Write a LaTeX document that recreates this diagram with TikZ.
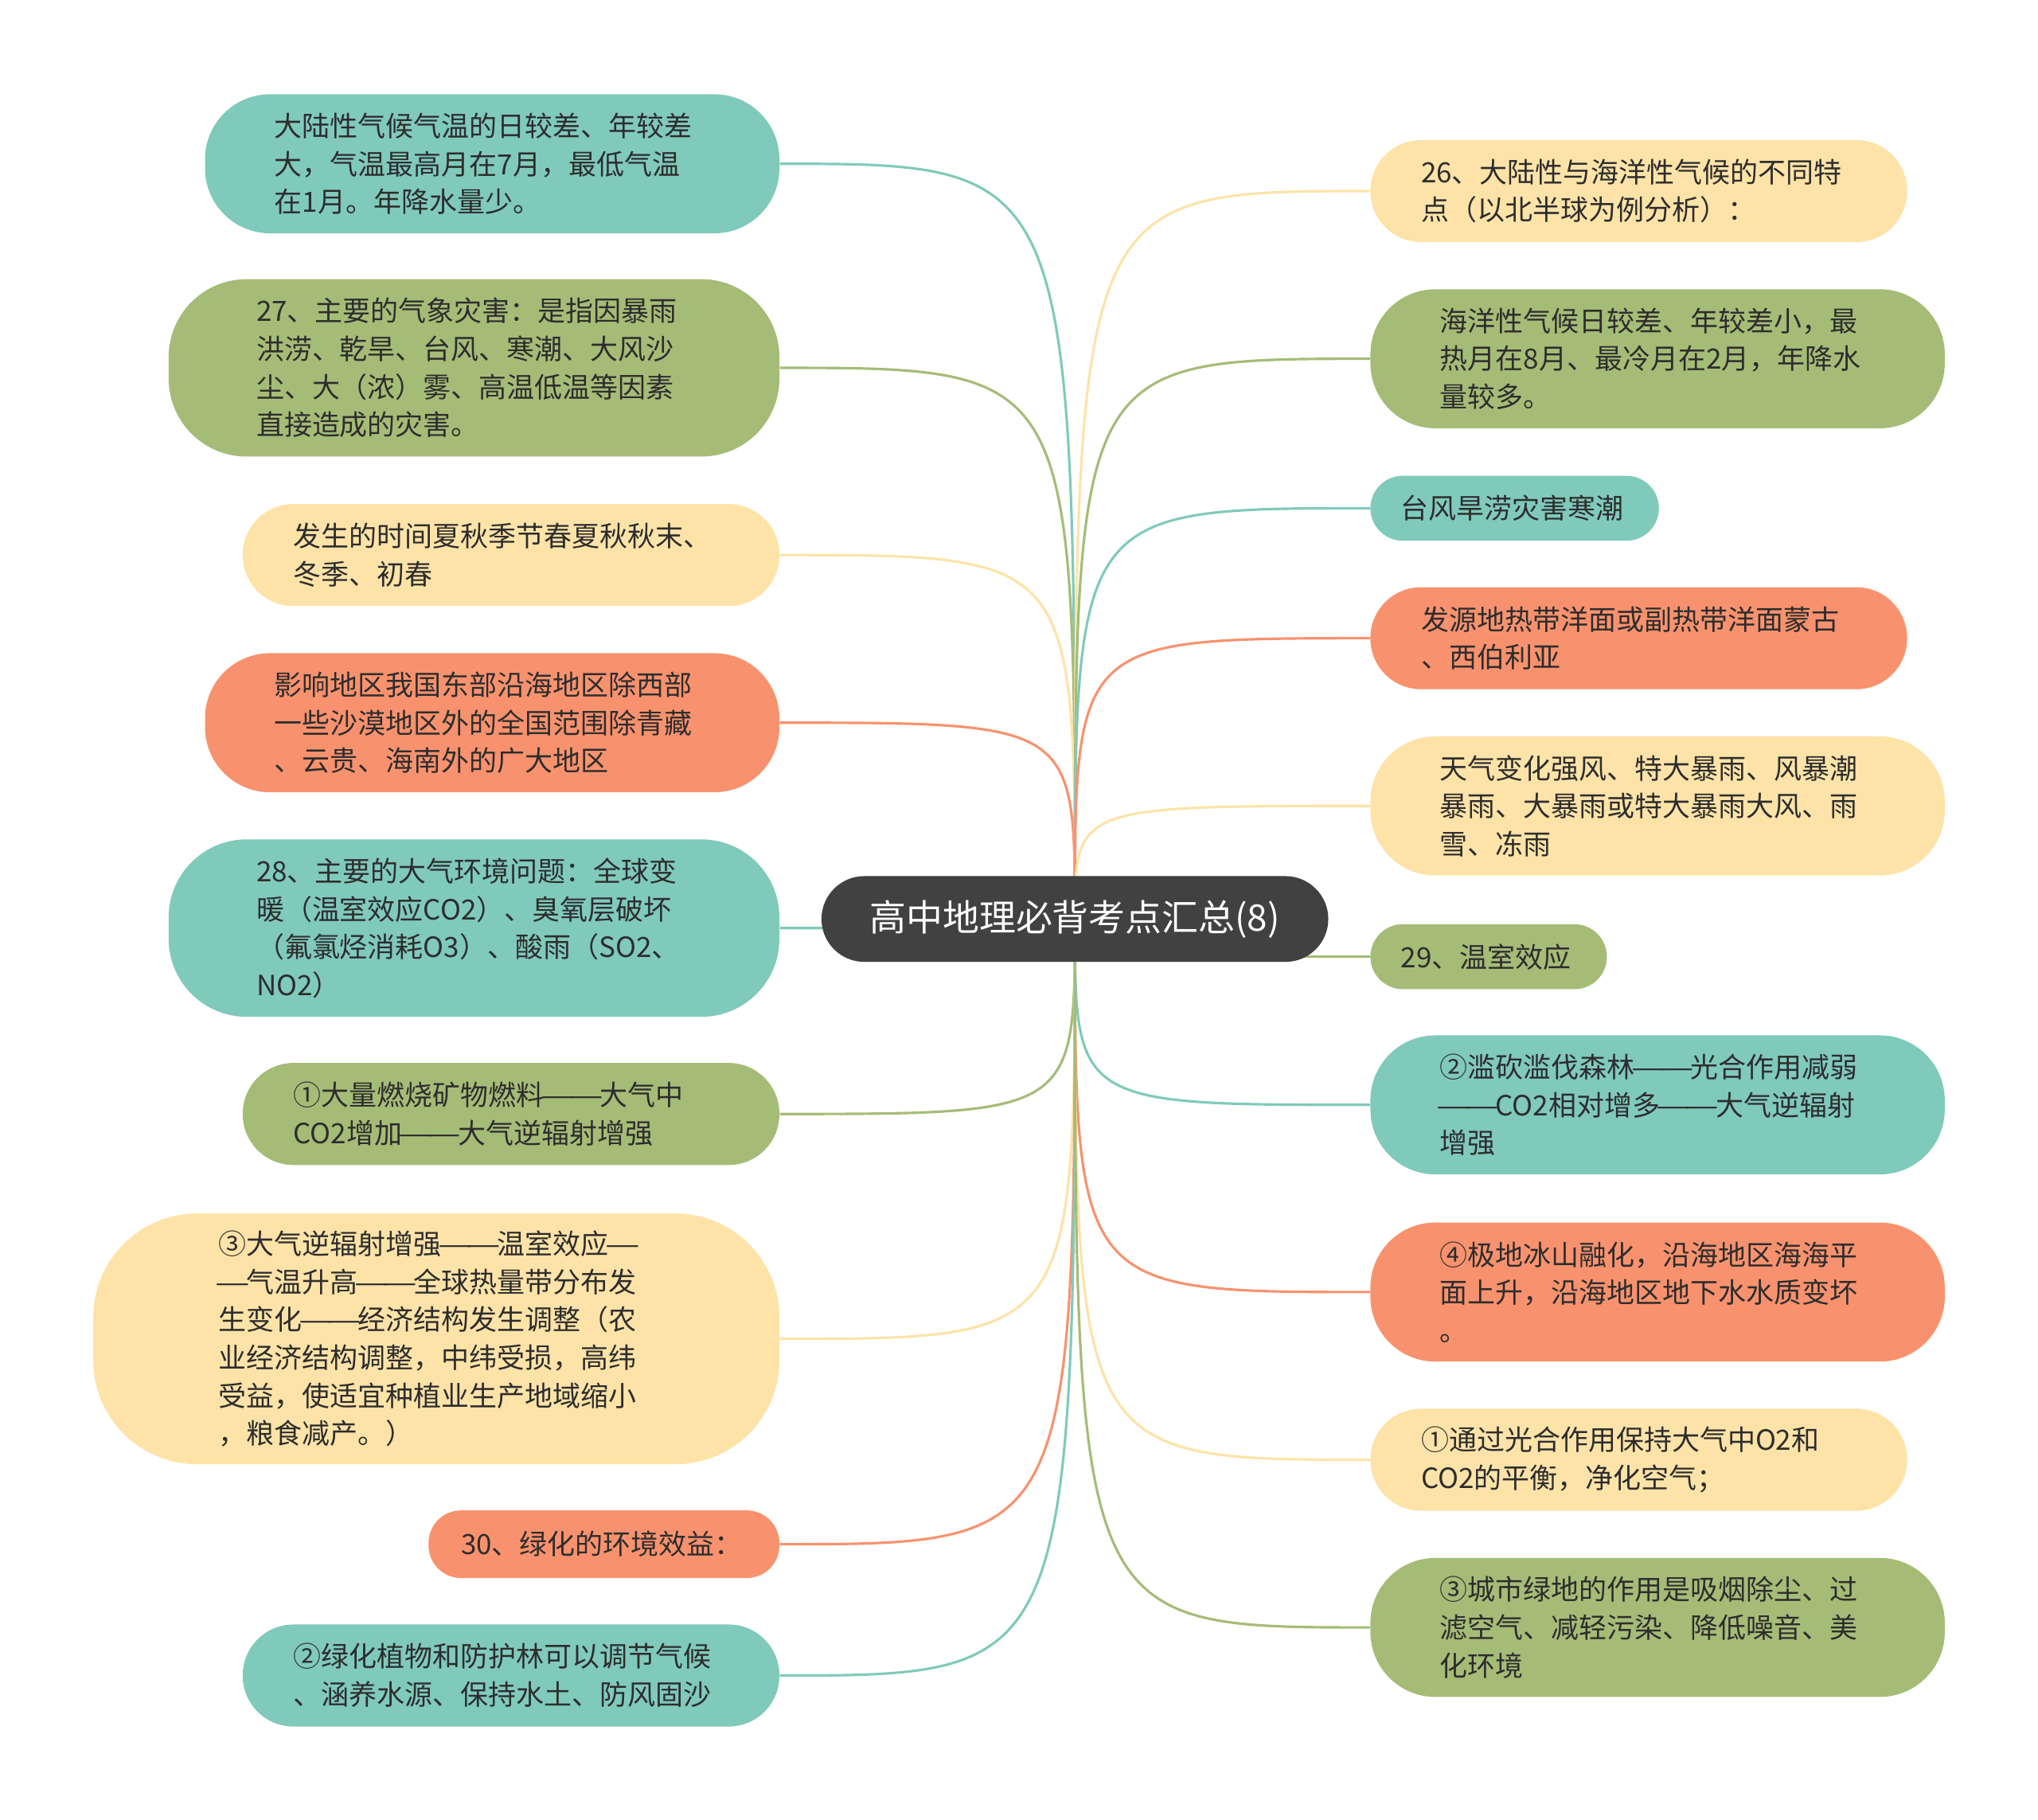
\documentclass[tikz,border=0pt]{standalone}
\usepackage{fontspec}
\newfontfamily\cjk{Noto Sans CJK SC}
\newcommand\cdash{\makebox[1em]{\resizebox{1.25em}{\height}{—}}}
\definecolor{mapteal}{RGB}{128,202,187}
\definecolor{mapgreen}{RGB}{165,188,119}
\definecolor{mapyellow}{RGB}{253,227,168}
\definecolor{maporange}{RGB}{248,146,110}
\definecolor{mapdark}{RGB}{65,65,65}
\definecolor{maptext}{RGB}{45,45,45}
\usetikzlibrary{backgrounds}
\tikzset{
  leaf/.style={align=left,inner sep=0pt,text width=6.7cm,text=maptext,font=\cjk\fontsize{12.2pt}{16.6pt}\selectfont},
  hone/.style={minimum height=1cm,rounded corners=0.5cm},
  htwo/.style={minimum height=1.57cm,rounded corners=0.78cm},
  hthree/.style={minimum height=2.14cm,rounded corners=1.0cm},
  hfour/.style={minimum height=2.73cm,rounded corners=1.2cm},
  hsix/.style={minimum height=3.86cm,rounded corners=1.6cm},
  root/.style={fill=mapdark,text=white,inner sep=0pt,minimum width=7.8cm,minimum height=1.32cm,rounded corners=0.66cm,font=\cjk\fontsize{16pt}{19pt}\selectfont},
  link/.style={line width=1.1pt}
}
\begin{document}
\begin{tikzpicture}[x=0.02cm,y=-0.02cm]
  \useasboundingbox (0,0) rectangle (1568,1400);
  \node[root] (root) at (827,707) {高中地理必背考点汇总(8)};
  \node[leaf,hthree,fill=mapteal,minimum width=8.84cm,anchor=east] (l1) at (600,126) {大陆性气候气温的日较差、年较差\\大，气温最高月在7月，最低气温\\在1月。年降水量少。};
  \node[leaf,hfour,fill=mapgreen,minimum width=9.4cm,anchor=east] (l2) at (600,283) {27、主要的气象灾害：是指因暴雨\\洪涝、乾旱、台风、寒潮、大风沙\\尘、大（浓）雾、高温低温等因素\\直接造成的灾害。};
  \node[leaf,htwo,fill=mapyellow,minimum width=8.26cm,anchor=east] (l3) at (600,427) {发生的时间夏秋季节春夏秋秋末、\\冬季、初春};
  \node[leaf,hthree,fill=maporange,minimum width=8.84cm,anchor=east] (l4) at (600,556) {影响地区我国东部沿海地区除西部\\一些沙漠地区外的全国范围除青藏\\、云贵、海南外的广大地区};
  \node[leaf,hfour,fill=mapteal,minimum width=9.4cm,anchor=east] (l5) at (600,714) {28、主要的大气环境问题：全球变\\暖（温室效应CO2）、臭氧层破坏\\（氟氯烃消耗O3）、酸雨（SO2、\\NO2）};
  \node[leaf,htwo,fill=mapgreen,minimum width=8.26cm,anchor=east] (l6) at (600,857) {①大量燃烧矿物燃料\cdash\cdash 大气中\\CO2增加\cdash\cdash 大气逆辐射增强};
  \node[leaf,hsix,fill=mapyellow,minimum width=10.56cm,anchor=east] (l7) at (600,1030) {③大气逆辐射增强\cdash\cdash 温室效应\cdash\\\cdash 气温升高\cdash\cdash 全球热量带分布发\\生变化\cdash\cdash 经济结构发生调整（农\\业经济结构调整，中纬受损，高纬\\受益，使适宜种植业生产地域缩小\\，粮食减产。）};
  \node[leaf,hone,fill=maporange,minimum width=5.4cm,minimum height=1.04cm,text width=4.4cm,anchor=east] (l8) at (600,1188) {30、绿化的环境效益：};
  \node[leaf,htwo,fill=mapteal,minimum width=8.26cm,anchor=east] (l9) at (600,1289) {②绿化植物和防护林可以调节气候\\、涵养水源、保持水土、防风固沙};
  \node[leaf,htwo,fill=mapyellow,minimum width=8.26cm,anchor=west] (r1) at (1054,147) {26、大陆性与海洋性气候的不同特\\点（以北半球为例分析）：};
  \node[leaf,hthree,fill=mapgreen,minimum width=8.84cm,anchor=west] (r2) at (1054,276) {海洋性气候日较差、年较差小，最\\热月在8月、最冷月在2月，年降水\\量较多。};
  \node[leaf,hone,fill=mapteal,minimum width=4.44cm,text width=3.5cm,anchor=west] (r3) at (1054,391) {台风旱涝灾害寒潮};
  \node[leaf,htwo,fill=maporange,minimum width=8.26cm,anchor=west] (r4) at (1054,491) {发源地热带洋面或副热带洋面蒙古\\、西伯利亚};
  \node[leaf,hthree,fill=mapyellow,minimum width=8.84cm,anchor=west] (r5) at (1054,620) {天气变化强风、特大暴雨、风暴潮\\暴雨、大暴雨或特大暴雨大风、雨\\雪、冻雨};
  \node[leaf,hone,fill=mapgreen,minimum width=3.64cm,text width=2.7cm,anchor=west] (r6) at (1054,736) {29、温室效应};
  \node[leaf,hthree,fill=mapteal,minimum width=8.84cm,anchor=west] (r7) at (1054,850) {②滥砍滥伐森林\cdash\cdash 光合作用减弱\\\cdash\cdash CO2相对增多\cdash\cdash 大气逆辐射\\增强};
  \node[leaf,hthree,fill=maporange,minimum width=8.84cm,anchor=west] (r8) at (1054,994) {④极地冰山融化，沿海地区海海平\\面上升，沿海地区地下水水质变坏\\。};
  \node[leaf,htwo,fill=mapyellow,minimum width=8.26cm,anchor=west] (r9) at (1054,1123) {①通过光合作用保持大气中O2和\\CO2的平衡，净化空气；};
  \node[leaf,hthree,fill=mapgreen,minimum width=8.84cm,anchor=west] (r10) at (1054,1252) {③城市绿地的作用是吸烟除尘、过\\滤空气、减轻污染、降低噪音、美\\化环境};
  \begin{scope}[on background layer]
    \foreach \n/\a/\c in {l1/east/mapteal,l2/east/mapgreen,l3/east/mapyellow,l4/east/maporange,l5/east/mapteal,l6/east/mapgreen,l7/east/mapyellow,l8/east/maporange,l9/east/mapteal,r1/west/mapyellow,r2/west/mapgreen,r3/west/mapteal,r4/west/maporange,r5/west/mapyellow,r6/west/mapgreen,r7/west/mapteal,r8/west/maporange,r9/west/mapyellow,r10/west/mapgreen}
      \draw[link,\c] (root.center) .. controls (root.center |- \n.\a) .. (\n.\a);
  \end{scope}
\end{tikzpicture}
\end{document}
